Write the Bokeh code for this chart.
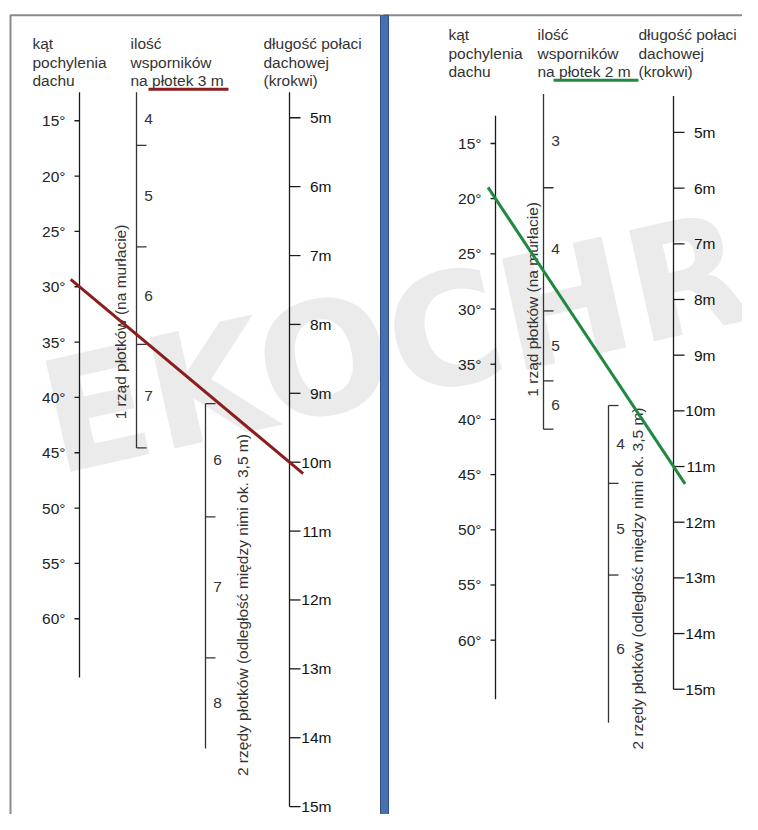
import numpy as np
from bokeh.plotting import figure
from bokeh.models import Range1d
from bokeh.embed import file_html
from bokeh.resources import INLINE
from bokeh.core.properties import value

# ---------------- data ----------------
header_angle = ["kąt", "pochylenia", "dachu"]
header_count_3m = ["ilość", "wsporników", "na płotek 3 m"]
header_count_2m = ["ilość", "wsporników", "na płotek 2 m"]
header_length = ["długość połaci", "dachowej", "(krokwi)"]

angles = [15, 20, 25, 30, 35, 40, 45, 50, 55, 60]          # degrees
lengths = [5, 6, 7, 8, 9, 10, 11, 12, 13, 14, 15]          # metres

counts_3m_one_row = [4, 5, 6, 7]
counts_3m_two_rows = [6, 7, 8]
counts_2m_one_row = [3, 4, 5, 6]
counts_2m_two_rows = [4, 5, 6]

label_one_row = "1 rząd płotków (na murłacie)"
label_two_rows = "2 rzędy płotków (odległość między nimi ok. 3,5 m)"

example_3m = (30, 10)   # (angle in degrees, rafter length in m)
example_2m = (20, 11)

watermark = "EKOCHRO"

# ---------------- layout (geometry of the two nomograms) ----------------
FONT = value("Liberation Sans")
FS = "15.5px"

left_panel = dict(
    angle_x=79, angle_top=93, angle_bottom=687, angle_mid=374.7, angle_k=11.23,
    len_x=289, len_top=93, len_mid=468.5, len_k=69.9,
    one_x=136, one_ends=(93, 454), one_bounds=[147, 250, 349], one_caps=(False, True),
    two_x=205, two_ends=(409, 759), two_bounds=[524, 667], two_caps=(True, False),
    one_lab=(120, 425), two_lab=(242, 787),
    head_x=(32, 130, 263), head_y=44, underline=(148, 228, 90),
    color="#8a1d1d",
)
right_panel = dict(
    angle_x=495, angle_top=117, angle_bottom=709, angle_mid=397.1, angle_k=11.2,
    len_x=673, len_top=97, len_mid=416.4, len_k=56.5,
    one_x=543, one_ends=(95, 435), one_bounds=[190, 315, 386], one_caps=(False, True),
    two_x=608, two_ends=(411, 733), two_bounds=[490, 583], two_caps=(True, False),
    one_lab=(532, 402), two_lab=(637, 760),
    head_x=(448, 537, 638), head_y=35, underline=(553, 638, 81),
    color="#1f8a3f",
)

p = figure(width=742, height=814, x_range=Range1d(0, 742), y_range=Range1d(826, 0),
           output_backend="svg", toolbar_location=None, min_border=0,
           x_axis_type=None, y_axis_type=None, outline_line_color=None)
p.grid.visible = False
p.background_fill_color = "white"
p.border_fill_color = "white"

# watermark
p.text(x=[64], y=[518], text=[watermark], angle=0.22, text_font=value("DejaVu Sans"),
       text_font_style="bold", text_font_size="156px", text_color="#ebebeb",
       text_align="left", text_baseline="bottom")

# frames / divider
p.line(x=[10, 10, 380], y=[830, 15, 15], line_color="#8a8a8a", line_width=2)
p.segment(x0=[383], y0=[15], x1=[758], y1=[15], line_color="#8a8a8a", line_width=2)
p.quad(left=[380], right=[388], top=[15], bottom=[830], fill_color="#4a6fb0",
       line_color="#2f4f8a", line_width=1)

AX = "#1a1a1a"


def draw_panel(L, count_header, counts_one, counts_two, example):
    ay = lambda a: L["angle_mid"] + L["angle_k"] * (np.asarray(a, float) - 37.5)
    ly = lambda m: L["len_mid"] + L["len_k"] * (np.asarray(m, float) - 10)

    # headers
    for hx, lines in zip(L["head_x"], [header_angle, count_header, header_length]):
        ys = [L["head_y"] + 18.5 * i for i in range(len(lines))]
        p.text(x=[hx] * len(lines), y=ys, text=lines, text_font=FONT, text_font_size=FS,
               text_color="#333333", text_align="left", text_baseline="middle")
    ux0, ux1, uy = L["underline"]
    p.segment(x0=[ux0], y0=[uy], x1=[ux1], y1=[uy], line_color=L["color"], line_width=3)

    # angle axis
    ax = L["angle_x"]
    p.segment(x0=[ax], y0=[L["angle_top"]], x1=[ax], y1=[L["angle_bottom"]],
              line_color=AX, line_width=1.3)
    ya = ay(angles)
    p.segment(x0=[ax - 5] * len(angles), y0=ya, x1=[ax] * len(angles), y1=ya,
              line_color=AX, line_width=1.3)
    p.text(x=[ax - 14] * len(angles), y=ya, text=[f"{a}°" for a in angles], text_font=FONT,
           text_font_size=FS, text_color="#222222", text_align="right", text_baseline="middle")

    # length axis
    lx = L["len_x"]
    yl = ly(lengths)
    p.segment(x0=[lx], y0=[L["len_top"]], x1=[lx], y1=[yl[-1]], line_color=AX, line_width=1.3)
    p.segment(x0=[lx] * len(lengths), y0=yl, x1=[lx + 11] * len(lengths), y1=yl,
              line_color=AX, line_width=1.3)
    p.text(x=[lx + 42] * len(lengths), y=yl, text=[f"{m}m" for m in lengths], text_font=FONT,
           text_font_size=FS, text_color="#111111", text_align="right", text_baseline="middle")

    # count axes
    for key, counts in (("one", counts_one), ("two", counts_two)):
        cx = L[key + "_x"]
        top, bot = L[key + "_ends"]
        bounds = L[key + "_bounds"]
        cap_top, cap_bot = L[key + "_caps"]
        p.segment(x0=[cx], y0=[top], x1=[cx], y1=[bot], line_color="#333333", line_width=1.3)
        ticks = list(bounds) + ([top] if cap_top else []) + ([bot] if cap_bot else [])
        p.segment(x0=[cx] * len(ticks), y0=ticks, x1=[cx + 10] * len(ticks), y1=ticks,
                  line_color="#333333", line_width=1.3)
        edges = [top] + list(bounds) + [bot]
        mids = [(edges[i] + edges[i + 1]) / 2 for i in range(len(counts))]
        p.text(x=[cx + 12] * len(counts), y=mids, text=[str(c) for c in counts], text_font=FONT,
               text_font_size=FS, text_color="#333333", text_align="center",
               text_baseline="middle")

    lab1x, lab1y = L["one_lab"]
    lab2x, lab2y = L["two_lab"]
    p.text(x=[lab1x, lab2x], y=[lab1y, lab2y], text=[label_one_row, label_two_rows],
           angle=np.pi / 2, text_font=FONT, text_font_size=FS, text_color="#333333",
           text_align="left", text_baseline="middle")

    # isopleth (example reading)
    a, m = example
    x1, y1 = ax, float(ay(a))
    x2, y2 = lx, float(ly(m))
    t = np.array([-0.042, 1.065])
    p.line(x=x1 + t * (x2 - x1), y=y1 + t * (y2 - y1), line_color=L["color"], line_width=3)


draw_panel(left_panel, header_count_3m, counts_3m_one_row, counts_3m_two_rows, example_3m)
draw_panel(right_panel, header_count_2m, counts_2m_one_row, counts_2m_two_rows, example_2m)

open("out.html", "w").write(file_html(p, INLINE))
